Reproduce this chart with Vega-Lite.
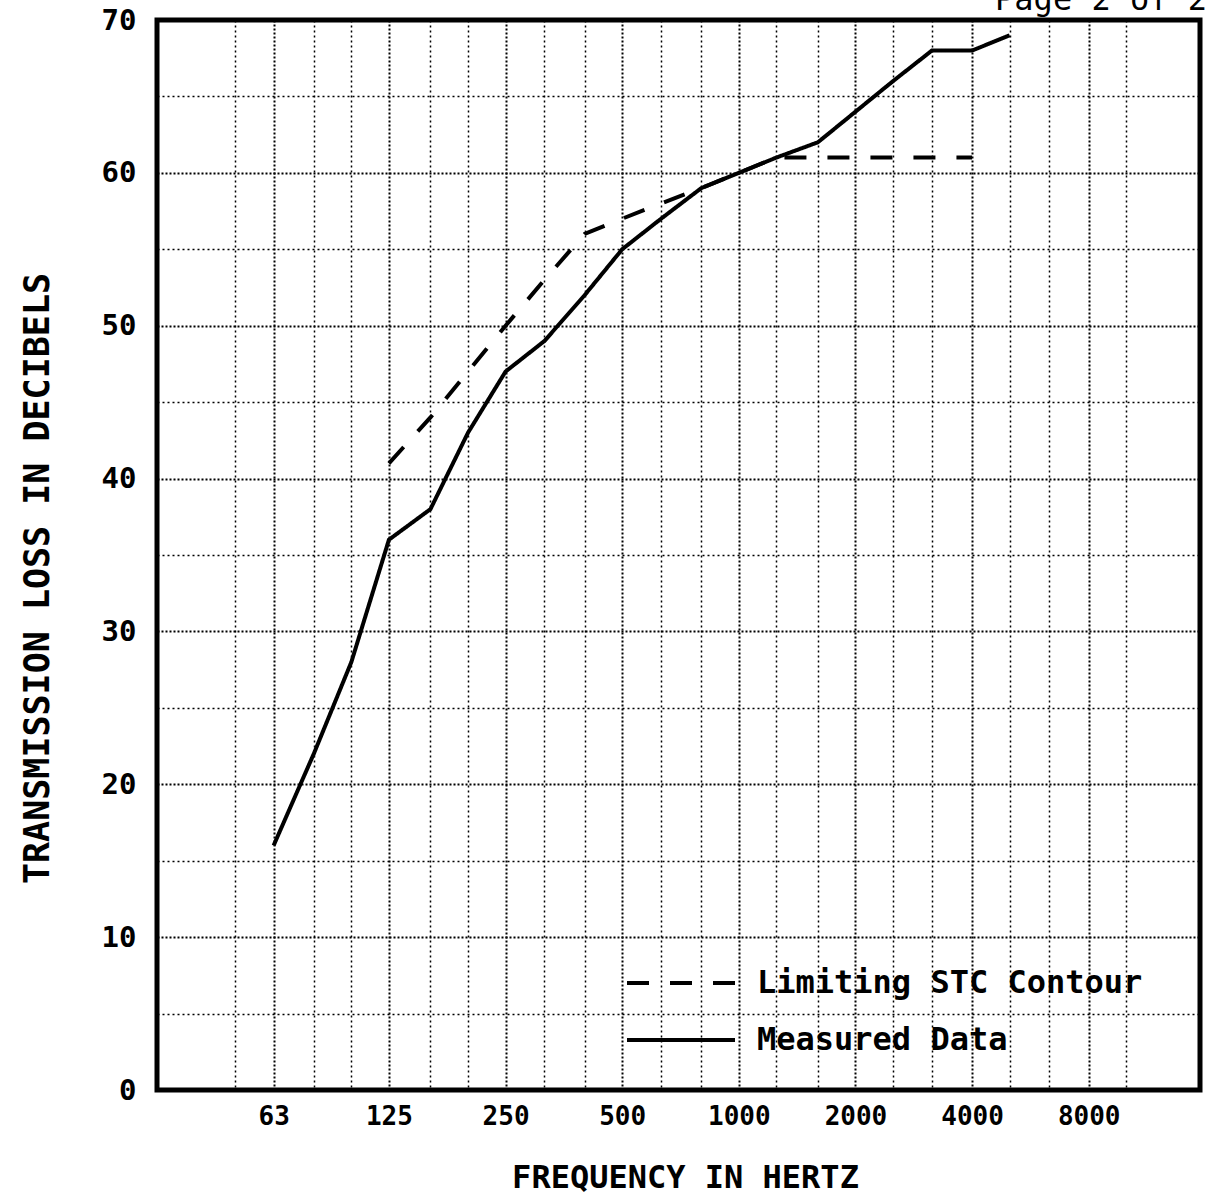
{
  "$schema": "https://vega.github.io/schema/vega-lite/v6.json",
  "autosize": "none",
  "padding": {"left": 157, "top": 20, "right": 9, "bottom": 105},
  "width": 1043,
  "height": 1070,
  "background": "white",
  "title": {
    "text": "Page 2 of 2",
    "anchor": "end",
    "frame": "group",
    "font": "DejaVu Sans Mono",
    "fontSize": 32,
    "fontWeight": "normal",
    "color": "black",
    "baseline": "alphabetic",
    "offset": 0,
    "dx": 7,
    "dy": 36
  },
  "config": {
    "view": {"stroke": "black", "strokeWidth": 5},
    "font": "DejaVu Sans Mono"
  },
  "data": {
    "values": [
      {"freq": 63, "tl": 16, "series": "Measured Data"},
      {"freq": 80, "tl": 22, "series": "Measured Data"},
      {"freq": 100, "tl": 28, "series": "Measured Data"},
      {"freq": 125, "tl": 36, "series": "Measured Data"},
      {"freq": 160, "tl": 38, "series": "Measured Data"},
      {"freq": 200, "tl": 43, "series": "Measured Data"},
      {"freq": 250, "tl": 47, "series": "Measured Data"},
      {"freq": 315, "tl": 49, "series": "Measured Data"},
      {"freq": 400, "tl": 52, "series": "Measured Data"},
      {"freq": 500, "tl": 55, "series": "Measured Data"},
      {"freq": 630, "tl": 57, "series": "Measured Data"},
      {"freq": 800, "tl": 59, "series": "Measured Data"},
      {"freq": 1000, "tl": 60, "series": "Measured Data"},
      {"freq": 1250, "tl": 61, "series": "Measured Data"},
      {"freq": 1600, "tl": 62, "series": "Measured Data"},
      {"freq": 2000, "tl": 64, "series": "Measured Data"},
      {"freq": 2500, "tl": 66, "series": "Measured Data"},
      {"freq": 3150, "tl": 68, "series": "Measured Data"},
      {"freq": 4000, "tl": 68, "series": "Measured Data"},
      {"freq": 5000, "tl": 69, "series": "Measured Data"},
      {"freq": 125, "tl": 41, "series": "Limiting STC Contour"},
      {"freq": 160, "tl": 44, "series": "Limiting STC Contour"},
      {"freq": 200, "tl": 47, "series": "Limiting STC Contour"},
      {"freq": 250, "tl": 50, "series": "Limiting STC Contour"},
      {"freq": 315, "tl": 53, "series": "Limiting STC Contour"},
      {"freq": 400, "tl": 56, "series": "Limiting STC Contour"},
      {"freq": 500, "tl": 57, "series": "Limiting STC Contour"},
      {"freq": 630, "tl": 58, "series": "Limiting STC Contour"},
      {"freq": 800, "tl": 59, "series": "Limiting STC Contour"},
      {"freq": 1000, "tl": 60, "series": "Limiting STC Contour"},
      {"freq": 1250, "tl": 61, "series": "Limiting STC Contour"},
      {"freq": 1600, "tl": 61, "series": "Limiting STC Contour"},
      {"freq": 2000, "tl": 61, "series": "Limiting STC Contour"},
      {"freq": 2500, "tl": 61, "series": "Limiting STC Contour"},
      {"freq": 3150, "tl": 61, "series": "Limiting STC Contour"},
      {"freq": 4000, "tl": 61, "series": "Limiting STC Contour"}
    ]
  },
  "resolve": {"axis": {"x": "independent", "y": "independent"}},
  "layer": [
    {
      "mark": {"type": "point", "opacity": 0},
      "encoding": {
        "x": {
          "field": "freq", "type": "quantitative",
          "scale": {"type": "log", "domain": [31.5, 15500], "nice": false},
          "axis": {
            "values": [50, 80, 100, 160, 200, 315, 400, 630, 800, 1250, 1600, 2500, 3150, 5000, 6300, 10000],
            "labels": false, "ticks": false, "domain": false, "title": null,
            "grid": true, "gridColor": "black", "gridDash": [2, 3], "gridWidth": 1.5, "gridOpacity": 1
          }
        },
        "y": {
          "field": "tl", "type": "quantitative",
          "scale": {"domain": [0, 70], "nice": false, "zero": true},
          "axis": {
            "values": [5, 15, 25, 35, 45, 55, 65],
            "labels": false, "ticks": false, "domain": false, "title": null,
            "grid": true, "gridColor": "black", "gridDash": [2, 3], "gridWidth": 1.5, "gridOpacity": 1
          }
        }
      }
    },
    {
      "mark": {"type": "line", "color": "black", "strokeWidth": 4, "clip": true},
      "encoding": {
        "x": {
          "field": "freq", "type": "quantitative",
          "scale": {"type": "log", "domain": [31.5, 15500], "nice": false},
          "axis": {
            "values": [63, 125, 250, 500, 1000, 2000, 4000, 8000],
            "format": "d",
            "orient": "bottom",
            "ticks": false, "domain": false,
            "grid": true, "gridColor": "black", "gridDash": [2, 2], "gridWidth": 2, "gridOpacity": 1,
            "labelFont": "DejaVu Sans Mono", "labelFontSize": 26, "labelFontWeight": "bold", "labelColor": "black",
            "labelPadding": 13, "labelFlush": false, "labelOverlap": false,
            "title": "FREQUENCY IN HERTZ",
            "titleFont": "DejaVu Sans Mono", "titleFontSize": 32, "titleFontWeight": "bold", "titleColor": "black",
            "titleX": 528, "titleY": 97, "titleBaseline": "alphabetic", "titleAlign": "center", "titleAnchor": null
          }
        },
        "y": {
          "field": "tl", "type": "quantitative",
          "scale": {"domain": [0, 70], "nice": false, "zero": true},
          "axis": {
            "values": [0, 10, 20, 30, 40, 50, 60, 70],
            "orient": "left",
            "ticks": false, "domain": false,
            "grid": true, "gridColor": "black", "gridDash": [2, 2], "gridWidth": 2, "gridOpacity": 1,
            "labelFont": "DejaVu Sans Mono", "labelFontSize": 29, "labelFontWeight": "bold", "labelColor": "black",
            "labelPadding": 21, "labelFlush": false, "labelOverlap": false,
            "title": "TRANSMISSION LOSS IN DECIBELS",
            "titleFont": "DejaVu Sans Mono", "titleFontSize": 35, "titleFontWeight": "bold", "titleColor": "black",
            "titleAngle": -90, "titleX": -109, "titleY": 558, "titleBaseline": "alphabetic", "titleAlign": "center", "titleAnchor": null
          }
        },
        "strokeDash": {
          "field": "series", "type": "nominal",
          "scale": {"domain": ["Limiting STC Contour", "Measured Data"], "range": [[22, 21], [1, 0]]},
          "legend": {
            "title": null,
            "orient": "none",
            "legendX": 468,
            "legendY": 947,
            "padding": 0,
            "symbolType": "stroke",
            "symbolSize": 11664,
            "symbolStrokeWidth": 4,
            "symbolStrokeColor": "black",
            "clipHeight": 32,
            "rowPadding": 25,
            "labelOffset": 20,
            "labelFont": "DejaVu Sans Mono",
            "labelFontSize": 32,
            "labelFontWeight": "bold",
            "labelColor": "black",
            "labelLimit": 600
          }
        }
      }
    }
  ]
}
